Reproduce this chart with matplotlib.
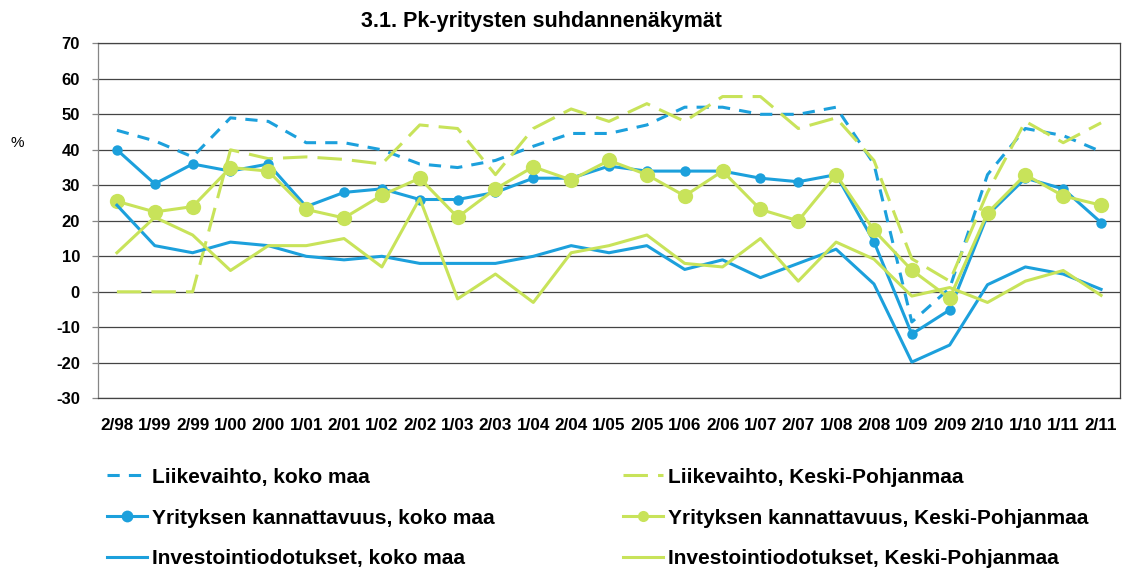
import matplotlib
matplotlib.use("Agg")
import matplotlib.pyplot as plt
from matplotlib.lines import Line2D

plt.rcParams['font.family'] = ['Liberation Sans', 'DejaVu Sans']

categories = ['2/98', '1/99', '2/99', '1/00', '2/00', '1/01', '2/01', '1/02', '2/02',
              '1/03', '2/03', '1/04', '2/04', '1/05', '2/05', '1/06', '2/06', '1/07',
              '2/07', '1/08', '2/08', '1/09', '2/09', '2/10', '1/10', '1/11', '2/11']

liikevaihto_koko = [45.5, 42.5, 38, 49, 48, 42, 42, 40, 36, 35, 37, 41, 44.6, 44.6, 47,
                    52, 52, 50, 50, 52, 36, -8.5, 1, 33, 46, 44, 39.5]
liikevaihto_kp = [0, 0, 0, 40, 37.5, 38, 37.3, 36, 47, 46, 33, 46, 51.5, 48, 53,
                  48, 55, 55, 46, 49, 37, 9.3, 3, 28, 48, 42, 47.6]
kannattavuus_koko = [40, 30.4, 36, 34, 36, 24, 28, 29, 26, 26, 28, 32, 32, 35.4, 34,
                     34, 34, 32, 31, 33, 14.1, -11.9, -5.1, 21.6, 32, 29, 19.5]
kannattavuus_kp = [25.5, 22.5, 24, 35, 34, 23.2, 20.8, 27.2, 32, 21, 29, 35.2, 31.5, 37, 33,
                   27, 34, 23.2, 20, 33, 17.3, 6.1, -1.8, 22.2, 33, 27, 24.4]
investointi_koko = [24.4, 13, 11, 14, 13, 10, 9, 10, 8, 8, 8, 10, 13, 11, 13,
                    6.3, 9, 4, 8, 12, 2.2, -19.8, -15, 2, 7, 5, 0.7]
investointi_kp = [11, 21, 16, 6, 13, 13, 15, 7, 26.3, -2, 5, -3, 11, 13, 16,
                  8, 7, 15, 3, 14, 9.2, -1.2, 1.2, -3, 3, 6, -1]

labels = ['Liikevaihto, koko maa', 'Liikevaihto, Keski-Pohjanmaa',
          'Yrityksen kannattavuus, koko maa', 'Yrityksen kannattavuus, Keski-Pohjanmaa',
          'Investointiodotukset, koko maa', 'Investointiodotukset, Keski-Pohjanmaa']

title = '3.1. Pk-yritysten suhdannenäkymät'
yticks = list(range(-30, 71, 10))

BLUE = '#1CA0DC'
GREEN = '#C8E35A'
LW = 2.2

fig = plt.figure(figsize=(11.29, 5.74), dpi=100)
ax = fig.add_axes([98 / 1129, 1 - 398.3 / 574, (1120 - 98) / 1129, (398.3 - 43.3) / 574])

x = list(range(len(categories)))

ax.plot(x, liikevaihto_koko, color=BLUE, lw=LW, dashes=(4, 3), zorder=3)
ax.plot(x, liikevaihto_kp, color=GREEN, lw=LW, dashes=(8, 3.3), zorder=4)
ax.plot(x, kannattavuus_koko, color=BLUE, lw=LW, marker='o', markersize=7.5,
        markeredgewidth=0, zorder=5)
ax.plot(x, kannattavuus_kp, color=GREEN, lw=LW, marker='o', markersize=11,
        markeredgewidth=0, zorder=6)
ax.plot(x, investointi_koko, color=BLUE, lw=LW, zorder=7)
ax.plot(x, investointi_kp, color=GREEN, lw=LW, zorder=8)

ax.set_xlim(-0.5, len(categories) - 0.5)
ax.set_ylim(-30, 70)
ax.set_yticks(yticks)
ax.set_yticklabels([str(v) for v in yticks], fontsize=12, fontweight='bold')
ax.set_xticks(x)
ax.set_xticklabels(categories, fontsize=12.3, fontweight='bold')
ax.tick_params(axis='x', length=0, pad=14)
ax.tick_params(axis='y', length=4, width=0.9, color='#868686', pad=9)

ax.yaxis.grid(True, color='#444444', lw=0.9)
ax.set_axisbelow(True)
for s in ['top', 'right', 'bottom']:
    ax.spines[s].set_color('#444444')
    ax.spines[s].set_linewidth(0.9)
ax.spines['left'].set_color('#868686')
ax.spines['left'].set_linewidth(0.9)

fig.text(541 / 1129, 1 - 21 / 574, title, ha='center', va='center',
         fontsize=15.5, fontweight='bold')
fig.text(17 / 1129, 1 - 143 / 574, '%', ha='center', va='center', fontsize=11)

h_left = [
    Line2D([], [], color=BLUE, lw=LW, dashes=(4, 3)),
    Line2D([], [], color=BLUE, lw=LW, marker='o', markersize=8.5, markeredgewidth=0),
    Line2D([], [], color=BLUE, lw=LW),
]
h_right = [
    Line2D([], [], color=GREEN, lw=LW, dashes=(8, 3.3)),
    Line2D([], [], color=GREEN, lw=LW, marker='o', markersize=8, markeredgewidth=0),
    Line2D([], [], color=GREEN, lw=LW),
]
common = dict(frameon=False, handlelength=1.9, handletextpad=0.28,
              labelspacing=1.05, borderpad=0, borderaxespad=0, loc='center left',
              prop={'weight': 'bold', 'size': 15})
fig.legend(h_left, [labels[0], labels[2], labels[4]],
           bbox_to_anchor=(107 / 1129, 1 - 518 / 574), **common)
fig.legend(h_right, [labels[1], labels[3], labels[5]],
           bbox_to_anchor=(623 / 1129, 1 - 518 / 574), **common)

fig.savefig('out.png', dpi=100)
